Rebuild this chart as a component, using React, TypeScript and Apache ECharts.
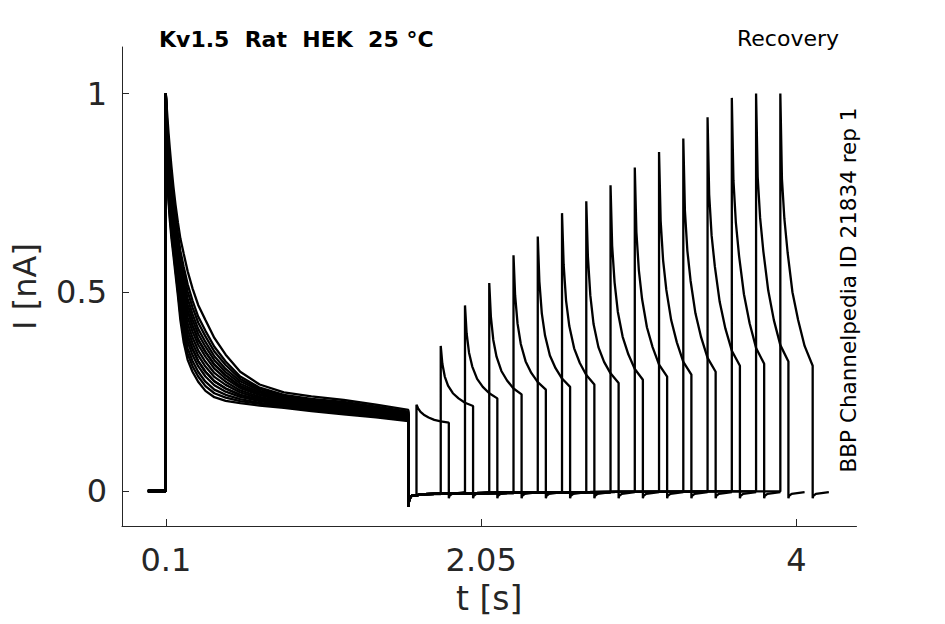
import React, { useEffect, useRef } from "react";
import * as echarts from "echarts";

// ---- axes ----
const X_TICKS = [0.1, 2.05, 4];
const Y_TICKS = [0, 0.5, 1];
const X_MIN = -0.171;
const X_MAX = 4.371;
const Y_MIN = -0.088;
const Y_MAX = 1.117;

const TITLE = "Kv1.5  Rat  HEK  25 °C";
const PROTOCOL = "Recovery";
const SOURCE = "BBP Channelpedia ID 21834 rep 1";

// ---- first (conditioning) pulse: the band of decays, fastest (A) to slowest (H) ----
const TRACE_START = -0.011;
const STEP1_ON = 0.1;
const FIRST_T = [0.1, 0.104, 0.11, 0.117, 0.125, 0.135, 0.147, 0.16, 0.175, 0.19, 0.21, 0.235, 0.265, 0.3, 0.345, 0.4, 0.47, 0.56, 0.68, 0.83, 1.0, 1.2, 1.4, 1.6];
const FIRST_A = [1.0, 0.86, 0.775, 0.725, 0.68, 0.635, 0.593, 0.545, 0.49, 0.43, 0.375, 0.33, 0.3, 0.275, 0.252, 0.236, 0.227, 0.221, 0.215, 0.209, 0.201, 0.193, 0.185, 0.176];
const FIRST_AB = [1.0, 0.868, 0.786, 0.737, 0.692, 0.647, 0.604, 0.557, 0.502, 0.444, 0.39, 0.345, 0.314, 0.288, 0.264, 0.246, 0.235, 0.226, 0.219, 0.212, 0.204, 0.196, 0.187, 0.178];
const FIRST_B = [1.0, 0.875, 0.796, 0.748, 0.703, 0.658, 0.615, 0.568, 0.514, 0.457, 0.404, 0.359, 0.327, 0.3, 0.275, 0.255, 0.242, 0.231, 0.222, 0.214, 0.206, 0.198, 0.189, 0.18];
const FIRST_BC = [1.0, 0.883, 0.808, 0.76, 0.716, 0.671, 0.627, 0.58, 0.527, 0.471, 0.42, 0.375, 0.342, 0.314, 0.288, 0.266, 0.25, 0.237, 0.226, 0.217, 0.209, 0.201, 0.192, 0.182];
const FIRST_C = [1.0, 0.891, 0.82, 0.772, 0.729, 0.684, 0.639, 0.592, 0.54, 0.485, 0.435, 0.39, 0.357, 0.327, 0.3, 0.276, 0.258, 0.242, 0.229, 0.22, 0.211, 0.203, 0.194, 0.184];
const FIRST_CD = [1.0, 0.899, 0.832, 0.785, 0.742, 0.697, 0.652, 0.605, 0.553, 0.5, 0.451, 0.406, 0.372, 0.341, 0.313, 0.287, 0.267, 0.248, 0.233, 0.223, 0.214, 0.206, 0.196, 0.186];
const FIRST_D = [1.0, 0.907, 0.843, 0.797, 0.754, 0.709, 0.664, 0.617, 0.566, 0.514, 0.466, 0.421, 0.386, 0.354, 0.325, 0.297, 0.275, 0.253, 0.237, 0.225, 0.216, 0.208, 0.198, 0.187];
const FIRST_DE = [1.0, 0.915, 0.855, 0.809, 0.767, 0.722, 0.676, 0.629, 0.579, 0.529, 0.482, 0.437, 0.401, 0.368, 0.338, 0.308, 0.283, 0.259, 0.241, 0.228, 0.219, 0.211, 0.201, 0.189];
const FIRST_E = [1.0, 0.923, 0.866, 0.821, 0.779, 0.734, 0.688, 0.641, 0.592, 0.543, 0.498, 0.453, 0.416, 0.381, 0.35, 0.318, 0.291, 0.264, 0.244, 0.23, 0.221, 0.213, 0.203, 0.191];
const FIRST_EF = [1.0, 0.931, 0.878, 0.834, 0.792, 0.747, 0.7, 0.654, 0.605, 0.557, 0.514, 0.469, 0.431, 0.395, 0.363, 0.329, 0.299, 0.27, 0.248, 0.233, 0.224, 0.216, 0.205, 0.193];
const FIRST_F = [1.0, 0.939, 0.889, 0.846, 0.804, 0.759, 0.712, 0.666, 0.618, 0.571, 0.529, 0.484, 0.445, 0.408, 0.375, 0.339, 0.307, 0.276, 0.252, 0.236, 0.227, 0.218, 0.207, 0.195];
const FIRST_FG = [1.0, 0.949, 0.902, 0.86, 0.819, 0.774, 0.726, 0.68, 0.633, 0.588, 0.547, 0.502, 0.462, 0.424, 0.389, 0.351, 0.317, 0.282, 0.256, 0.239, 0.23, 0.221, 0.21, 0.198];
const FIRST_G = [1.0, 0.958, 0.915, 0.874, 0.833, 0.788, 0.739, 0.694, 0.647, 0.604, 0.565, 0.52, 0.479, 0.439, 0.403, 0.363, 0.326, 0.288, 0.26, 0.242, 0.232, 0.224, 0.212, 0.2];
const FIRST_H = [1.0, 0.975, 0.94, 0.9, 0.86, 0.815, 0.765, 0.72, 0.675, 0.635, 0.598, 0.553, 0.51, 0.468, 0.43, 0.385, 0.343, 0.3, 0.268, 0.248, 0.238, 0.229, 0.217, 0.204];
const FIRST_CURVES = [
  FIRST_A, FIRST_E, FIRST_AB, FIRST_EF, FIRST_B, FIRST_F, FIRST_BC, FIRST_FG,
  FIRST_C, FIRST_G, FIRST_CD, FIRST_H, FIRST_D, FIRST_DE, FIRST_E, FIRST_C,
];

// tail after the conditioning pulse (shared baseline)
const TAIL1_T = [1.6, 1.605, 1.62, 1.7, 1.9, 2.3, 2.9, 3.5, 4.2];
const TAIL1_I = [-0.04, -0.02, -0.012, -0.008, -0.006, -0.004, -0.002, -0.001, 0];

// ---- second (test) pulses ----
const SECOND_START = [1.65, 1.8, 1.95, 2.1, 2.25, 2.4, 2.55, 2.7, 2.85, 3.0, 3.15, 3.3, 3.45, 3.6, 3.75, 3.9];
const SECOND_DT = [0, 0.01, 0.025, 0.045, 0.075, 0.11, 0.15, 0.2];
const SECOND_I = [
  [0.217, 0.208, 0.199, 0.192, 0.185, 0.179, 0.175, 0.172],
  [0.365, 0.32, 0.288, 0.265, 0.246, 0.233, 0.222, 0.214],
  [0.467, 0.397, 0.348, 0.313, 0.282, 0.262, 0.246, 0.233],
  [0.523, 0.439, 0.38, 0.338, 0.302, 0.278, 0.258, 0.243],
  [0.593, 0.492, 0.421, 0.37, 0.326, 0.297, 0.274, 0.255],
  [0.64, 0.527, 0.447, 0.391, 0.341, 0.309, 0.283, 0.262],
  [0.699, 0.57, 0.479, 0.415, 0.359, 0.322, 0.292, 0.268],
  [0.729, 0.59, 0.492, 0.42, 0.362, 0.325, 0.296, 0.272],
  [0.769, 0.617, 0.525, 0.451, 0.388, 0.344, 0.307, 0.28],
  [0.814, 0.651, 0.556, 0.483, 0.412, 0.362, 0.318, 0.288],
  [0.853, 0.679, 0.581, 0.506, 0.43, 0.374, 0.325, 0.293],
  [0.887, 0.705, 0.605, 0.529, 0.447, 0.387, 0.335, 0.3],
  [0.94, 0.746, 0.643, 0.565, 0.476, 0.409, 0.353, 0.315],
  [0.989, 0.782, 0.675, 0.591, 0.495, 0.422, 0.36, 0.32],
  [1.0, 0.79, 0.687, 0.603, 0.505, 0.43, 0.367, 0.326],
  [1.0, 0.785, 0.685, 0.6, 0.5, 0.43, 0.365, 0.315],
];
const TAIL2_DT = [0, 0.004, 0.02, 0.1];
const TAIL2_I = [-0.018, -0.012, -0.007, -0.003];

const AXIS_COLOR = "#262626";
const FONT = "DejaVu Sans";

function buildTrace(i: number): number[][] {
  const pts: number[][] = [[TRACE_START, 0], [STEP1_ON, 0]];
  const curve = FIRST_CURVES[i % FIRST_CURVES.length];
  FIRST_T.forEach((t, k) => pts.push([t, curve[k]]));
  const start = SECOND_START[i];
  let last = 0;
  TAIL1_T.forEach((t, k) => {
    if (t < start) {
      pts.push([t, TAIL1_I[k]]);
      last = TAIL1_I[k];
    }
  });
  pts.push([start, last]);
  SECOND_DT.forEach((dt, k) => pts.push([start + dt, SECOND_I[i][k]]));
  const end = start + SECOND_DT[SECOND_DT.length - 1];
  TAIL2_DT.forEach((dt, k) => pts.push([end + dt, TAIL2_I[k]]));
  return pts;
}

export default function App() {
  const ref = useRef<HTMLDivElement>(null);
  useEffect(() => {
    if (!ref.current) return;
    const chart = echarts.init(ref.current, null, { renderer: "svg" });
    const series = SECOND_START.map((_, i) => ({
      type: "line",
      data: buildTrace(i),
      showSymbol: false,
      symbol: "none",
      lineStyle: { color: "#000", width: 2.3 },
      silent: true,
    }));
    chart.setOption({
      animation: false,
      backgroundColor: "#fff",
      grid: { left: 122, top: 47, right: 88.5, bottom: 98 },
      xAxis: {
        type: "value",
        min: X_MIN,
        max: X_MAX,
        name: "t [s]",
        nameLocation: "middle",
        nameGap: 56,
        nameTextStyle: { fontFamily: FONT, fontSize: 33, color: AXIS_COLOR },
        axisLine: { onZero: false, lineStyle: { color: AXIS_COLOR, width: 1 } },
        axisTick: { inside: true, length: 7, customValues: X_TICKS, lineStyle: { color: AXIS_COLOR } },
        axisLabel: { customValues: X_TICKS, margin: 18, fontFamily: FONT, fontSize: 32, color: AXIS_COLOR },
        splitLine: { show: false },
      },
      yAxis: {
        type: "value",
        min: Y_MIN,
        max: Y_MAX,
        name: "I [nA]",
        nameLocation: "middle",
        nameGap: 81,
        nameTextStyle: { fontFamily: FONT, fontSize: 32, color: AXIS_COLOR },
        axisLine: { show: true, onZero: false, lineStyle: { color: AXIS_COLOR, width: 1 } },
        axisTick: { show: true, inside: true, length: 7, customValues: Y_TICKS, lineStyle: { color: AXIS_COLOR } },
        axisLabel: { customValues: Y_TICKS, margin: 15, fontFamily: FONT, fontSize: 32, color: AXIS_COLOR },
        splitLine: { show: false },
      },
      graphic: [
        {
          type: "text",
          x: 159,
          y: 39,
          style: {
            text: TITLE,
            font: `bold 22px "${FONT}"`,
            fill: "#000",
            align: "left",
            verticalAlign: "middle",
            textAlign: "left",
            textVerticalAlign: "middle",
          },
        },
        {
          type: "text",
          x: 737,
          y: 38.5,
          style: {
            text: PROTOCOL,
            font: `22px "${FONT}"`,
            fill: "#000",
            align: "left",
            verticalAlign: "middle",
            textAlign: "left",
            textVerticalAlign: "middle",
          },
        },
        {
          type: "text",
          x: 848,
          y: 290,
          rotation: Math.PI / 2,
          style: {
            text: SOURCE,
            font: `21.5px "${FONT}"`,
            fill: "#000",
            align: "center",
            verticalAlign: "middle",
            textAlign: "center",
            textVerticalAlign: "middle",
          },
        },
      ],
      series,
    });
    return () => chart.dispose();
  }, []);
  return (
    <div
      ref={ref}
      style={{ position: "fixed", left: 0, top: 0, width: 945, height: 624, background: "#fff" }}
    />
  );
}
